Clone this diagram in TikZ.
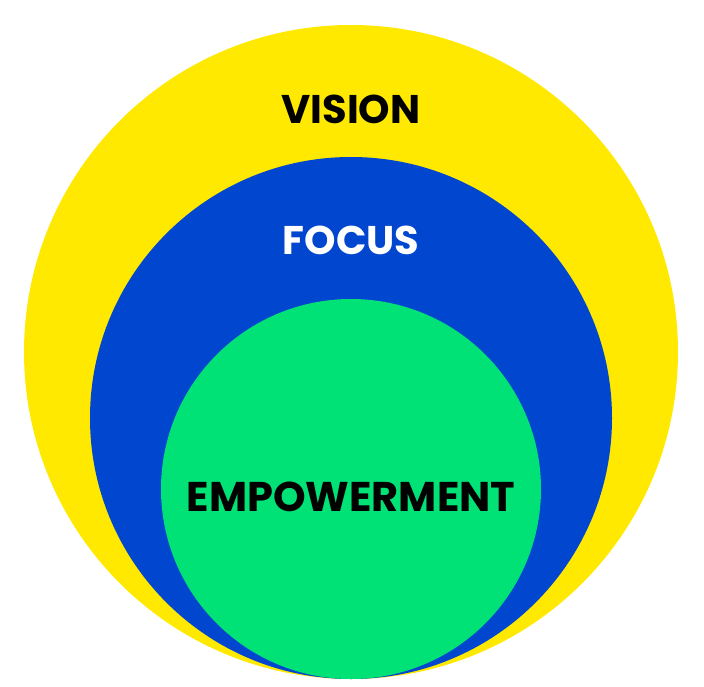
\documentclass[tikz,border=0pt]{standalone}
\usepackage{fontspec}
\newfontfamily\ringfont{Poppins}
\definecolor{jaune}{RGB}{255,233,0}
\definecolor{bleu}{RGB}{0,70,207}
\definecolor{vert}{RGB}{0,225,118}
\begin{document}
\begin{tikzpicture}[x=1pt,y=-1pt]
		\tikzstyle{titre} = [font=\ringfont\bfseries\fontsize{40}{40}\selectfont,inner sep=0pt];
		
		\useasboundingbox (0,0) rectangle (704,687);
		
		
		\foreach \c/\y/\r in {jaune/352/327,bleu/418/261,vert/489/190}{
			\fill[\c] (351,\y) circle (\r);
		}
		
		
		\node[titre,black] (vision) at (351,109) {VISION};
		\node[titre,white] (focus) at (351,240) {FOCUS};
		\node[titre,black,font=\ringfont\bfseries\fontsize{41.5}{41.5}\selectfont] (empowerment) at (351,497) {EMPOWERMENT};
		
		
	\end{tikzpicture}
\end{document}
